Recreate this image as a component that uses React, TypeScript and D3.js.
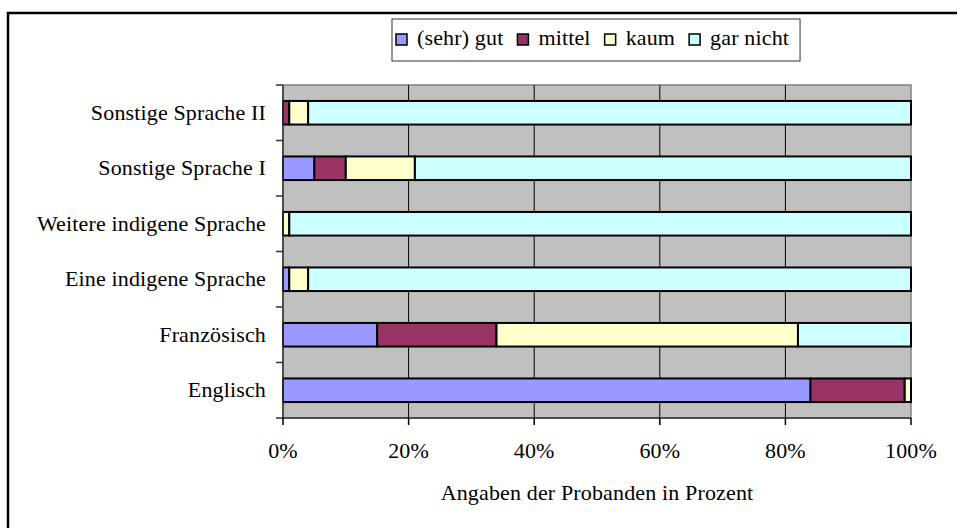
import React, { useMemo } from "react";
import * as d3 from "d3";

// ===== data =====
const categories = [
  "Sonstige Sprache II",
  "Sonstige Sprache I",
  "Weitere indigene Sprache",
  "Eine indigene Sprache",
  "Französisch",
  "Englisch",
];
const seriesNames = ["(sehr) gut", "mittel", "kaum", "gar nicht"];
const sehrGut = [0, 5, 0, 1, 15, 84];
const mittel = [1, 5, 0, 0, 19, 15];
const kaum = [3, 11, 1, 3, 48, 1];
const garNicht = [96, 79, 99, 96, 18, 0];
const seriesColors = ["#9999FF", "#993366", "#FFFFCC", "#CCFFFF"];
const xTicks = [0, 0.2, 0.4, 0.6, 0.8, 1];
const xTitle = "Angaben der Probanden in Prozent";

const W = 957;
const H = 528;
const FONT = "'Liberation Serif', 'Times New Roman', serif";
const FS = 22;
const LS = 0.15;

function measure(text: string) {
  const ctx = document.createElement("canvas").getContext("2d");
  if (!ctx) return text.length * FS * 0.45;
  ctx.font = `${FS}px ${FONT}`;
  return ctx.measureText(text).width + LS * text.length;
}

function T({ x, y, anchor = "start", children }: any) {
  return (
    <text
      x={x}
      y={y}
      textAnchor={anchor}
      fontFamily={FONT}
      fontSize={FS}
      letterSpacing={LS}
      fill="#000"
    >
      {children}
    </text>
  );
}

export default function App() {
  const m = { left: 283, right: 911, top: 85, bottom: 418 };

  const x = d3.scaleLinear().domain([0, 1]).range([m.left, m.right]);
  const y = d3
    .scaleBand<string>()
    .domain(categories)
    .range([m.top, m.bottom])
    .paddingInner(0.575)
    .paddingOuter(0.2875);
  const yOuter = d3.scaleBand<string>().domain(categories).range([m.top, m.bottom]);

  const stacked = useMemo(() => {
    const rows = categories.map((c, i) => ({
      cat: c,
      s0: sehrGut[i],
      s1: mittel[i],
      s2: kaum[i],
      s3: garNicht[i],
    }));
    return d3
      .stack<any>()
      .keys(["s0", "s1", "s2", "s3"])
      .offset(d3.stackOffsetExpand)(rows);
  }, []);

  // legend layout
  const legendItems = useMemo(() => {
    let cx = 396;
    return seriesNames.map((name, i) => {
      const item = { name, color: seriesColors[i], sx: cx, tx: cx + 21 };
      cx = item.tx + measure(name) + 14;
      return item;
    });
  }, []);
  const legendEnd = legendItems[legendItems.length - 1].tx + measure(seriesNames[3]) + 11;

  return (
    <svg
      width={W}
      height={H}
      style={{ position: "absolute", left: 0, top: 0, background: "#fff" }}
    >
      {/* outer frame (runs off right/bottom) */}
      <rect x={8} y={13} width={1000} height={600} fill="#fff" stroke="#000" strokeWidth={2.5} />

      {/* legend */}
      <rect x={392} y={19} width={legendEnd - 392} height={42} fill="#fff" stroke="#333" strokeWidth={1} />
      {legendItems.map((it) => (
        <g key={it.name}>
          <rect x={it.sx} y={34} width={11} height={11} fill={it.color} stroke="#000" strokeWidth={1.5} />
          <T x={it.tx} y={45}>{it.name}</T>
        </g>
      ))}

      {/* plot area */}
      <rect
        x={m.left}
        y={m.top}
        width={m.right - m.left}
        height={m.bottom - m.top}
        fill="#C0C0C0"
        stroke="#808080"
        strokeWidth={1.5}
      />
      {xTicks.slice(1, -1).map((t) => (
        <line key={t} x1={x(t)} x2={x(t)} y1={m.top} y2={m.bottom} stroke="#000" strokeWidth={1} />
      ))}

      {/* bars */}
      {stacked.map((layer, si) =>
        layer.map((d, ci) =>
          d[1] - d[0] > 0 ? (
            <rect
              key={`${si}-${ci}`}
              x={x(d[0])}
              y={y(categories[ci])}
              width={x(d[1]) - x(d[0])}
              height={y.bandwidth()}
              fill={seriesColors[si]}
              stroke="#000"
              strokeWidth={2}
            />
          ) : null
        )
      )}

      {/* axes */}
      <line x1={m.left} x2={m.left} y1={m.top} y2={m.bottom} stroke="#333" strokeWidth={1.5} />
      <line x1={m.left - 1} x2={m.right} y1={m.bottom} y2={m.bottom} stroke="#333" strokeWidth={1.5} />
      {categories.map((c) => (
        <line
          key={c}
          x1={m.left - 7}
          x2={m.left}
          y1={yOuter(c)}
          y2={yOuter(c)}
          stroke="#333"
          strokeWidth={1.5}
        />
      ))}
      <line x1={m.left - 7} x2={m.left} y1={m.bottom} y2={m.bottom} stroke="#333" strokeWidth={1.5} />
      {xTicks.map((t) => (
        <line key={t} x1={x(t)} x2={x(t)} y1={m.bottom} y2={m.bottom + 7} stroke="#000" strokeWidth={1.5} />
      ))}

      {/* labels */}
      {categories.map((c) => (
        <T key={c} x={266} y={(yOuter(c) as number) + yOuter.bandwidth() / 2 + 7} anchor="end">
          {c}
        </T>
      ))}
      {xTicks.map((t) => (
        <T key={t} x={x(t)} y={458} anchor="middle">
          {d3.format(".0%")(t)}
        </T>
      ))}
      <T x={(m.left + m.right) / 2} y={500} anchor="middle">
        {xTitle}
      </T>
    </svg>
  );
}
